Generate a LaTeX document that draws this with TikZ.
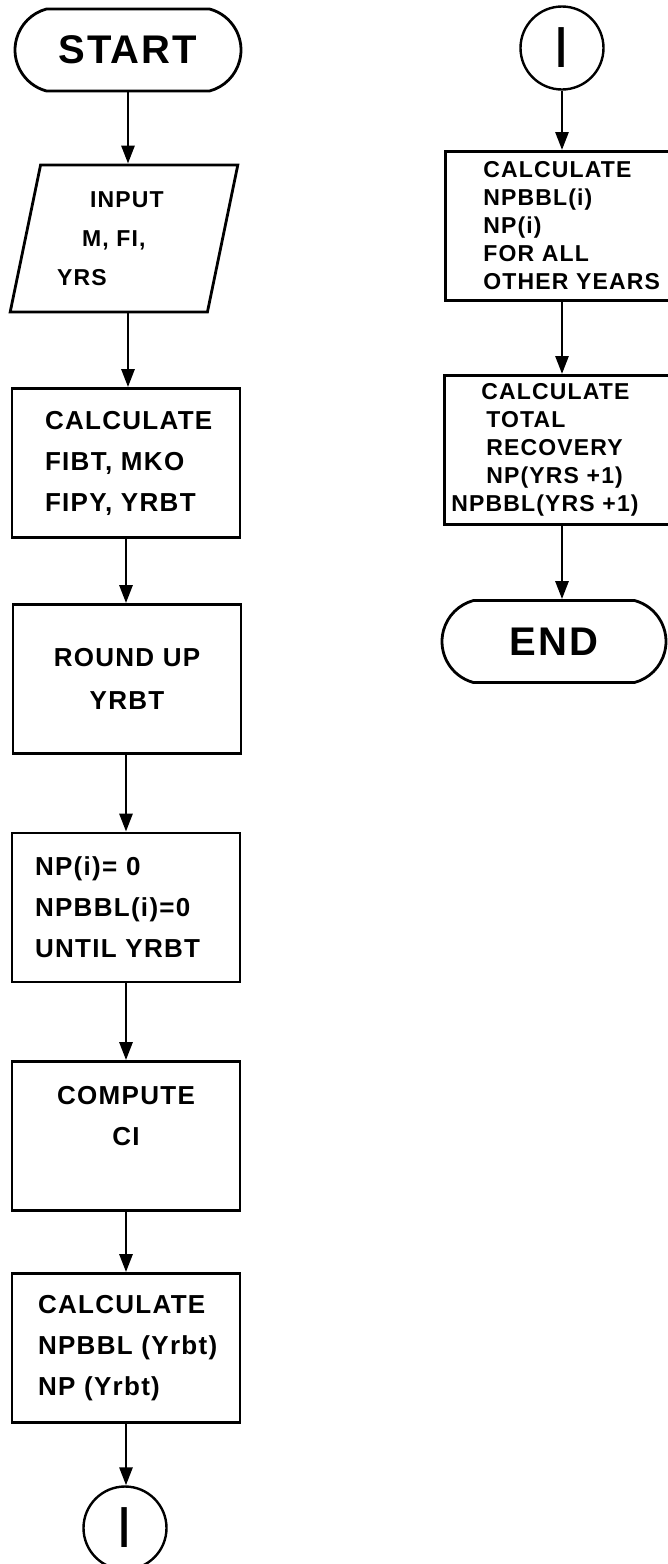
\documentclass[tikz,border=0pt]{standalone}
\usepackage{fontspec}
\setmainfont{Liberation Sans}[LetterSpace=5]
\usetikzlibrary{positioning,shapes.geometric,shapes.misc,arrows.meta}

\begin{document}
\begin{tikzpicture}[x=1pt, y=-1pt, line width=2.8pt,
  every node/.style={inner sep=0pt},
  term/.style={draw, rounded rectangle, rounded rectangle arc length=150,
    minimum height=82pt, font=\bfseries\fontsize{40}{48}\selectfont},
  conn/.style={draw, circle, line width=2.4pt, minimum size=83pt,
    font=\fontsize{58}{60}\selectfont},
  inbox/.style={draw, trapezium, trapezium left angle=75.5, trapezium right angle=104.5,
    trapezium stretches=true, minimum width=228pt, minimum height=147pt,
    align=left, font=\bfseries\fontsize{23}{39}\selectfont},
  procbox/.style={draw, minimum width=228pt, minimum height=149pt,
    align=left, font=\bfseries\fontsize{26}{41}\selectfont},
  sidebox/.style={draw, anchor=north west, minimum width=280pt, minimum height=149pt,
    align=left, font=\bfseries\fontsize{23}{28}\selectfont},
  flow/.style={-{Triangle[length=18pt,width=13pt]}}]
  \useasboundingbox (0,0) rectangle (668,1564);
  \clip (0,0) rectangle (668,1564);
  % main column
  \node[term, minimum width=226pt] (start) at (128,50) {START};
  \node[inbox] (inp) at (124,238.5)
    {\hspace*{33pt}INPUT\hspace*{27pt}\\\hspace*{25pt}M,~FI,\\YRS};
  \node[procbox, inner xsep=33pt, text width=162pt] (calc1) at (126,463)
    {CALCULATE\\FIBT,~MKO\\FIPY,~YRBT};
  \node[procbox, align=center, font=\bfseries\fontsize{26}{43}\selectfont] (rnd) at (127,679)
    {ROUND~UP\\YRBT};
  \node[procbox, inner xsep=23pt, text width=182pt] (zero) at (126,907.5)
    {NP(i)=~0\\NPBBL(i)=0\\UNTIL~YRBT};
  \node[procbox, align=center] (cmp) at (126,1136) {COMPUTE\\CI\\~};
  \node[procbox, inner xsep=26pt, text width=176pt] (calc2) at (126,1348)
    {CALCULATE\\NPBBL~(Yrbt)\\NP~(Yrbt)};
  \node[conn] (out1) at (125,1528) {I};
  % second column
  \node[conn] (in1) at (562,48) {I};
  \node[sidebox, inner xsep=38pt, text width=204pt] (calc3) at (444,150)
    {CALCULATE\\NPBBL(i)\\NP(i)\\FOR~ALL\\OTHER~YEARS};
  \node[sidebox, inner xsep=7pt, text width=266pt] (total) at (443,374)
    {\hspace*{30pt}CALCULATE\\\hspace*{35pt}TOTAL\\\hspace*{35pt}RECOVERY\\
     \hspace*{35pt}NP(YRS~+1)\\NPBBL(YRS~+1)};
  \node[term, minimum width=224pt] (stop) at (554,641.5) {END};
  % connectors
  \draw[flow] (start.south) -- (start.south |- inp.north);
  \draw[flow] (start.south |- inp.south) -- (start.south |- calc1.north);
  \draw[flow] (calc1.south) -- (calc1.south |- rnd.north);
  \draw[flow] (calc1.south |- rnd.south) -- (calc1.south |- zero.north);
  \draw[flow] (zero.south) -- (zero.south |- cmp.north);
  \draw[flow] (cmp.south) -- (cmp.south |- calc2.north);
  \draw[flow] (calc2.south) -- (calc2.south |- out1.north);
  \draw[flow] (in1.south) -- (in1.south |- calc3.north);
  \draw[flow] (in1.south |- calc3.south) -- (in1.south |- total.north);
  \draw[flow] (in1.south |- total.south) -- (in1.south |- stop.north);
\end{tikzpicture}
\end{document}
